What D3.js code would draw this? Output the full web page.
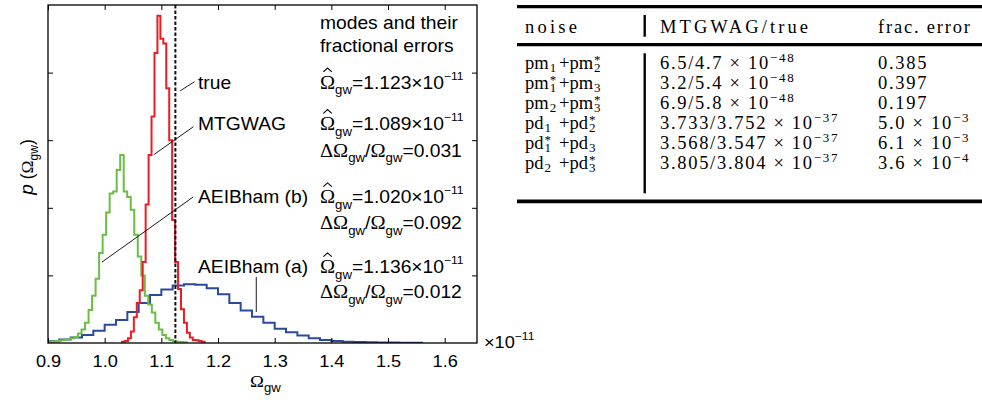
<!DOCTYPE html>
<html>
<head>
<meta charset="utf-8">
<script src="https://cdn.jsdelivr.net/npm/d3@7"></script>
<style>
  body { margin: 0; background: #fff; }
  svg { display: block; }
</style>
</head>
<body>
<div id="chart"></div>
<script>
// Posterior histograms p(Omega_gw)
var blueStart = 0.90, blueWidth = 0.02;          // AEIBham (a)
var blueValues = [0.025, 0.05, 0.08, 0.12, 0.18, 0.27, 0.34, 0.46, 0.59, 0.71, 0.79,
  0.85, 0.87, 0.86, 0.81, 0.72, 0.59, 0.48, 0.39, 0.30, 0.21, 0.16, 0.11, 0.07,
  0.045, 0.03, 0.02, 0.015, 0.01, 0.008, 0.006, 0.004, 0.003];

var greenStart = 0.8972, greenWidth = 0.0062;    // AEIBham (b)
var greenValues = [0.02, 0.02, 0.025, 0.03, 0.04, 0.05, 0.05, 0.07, 0.09, 0.14, 0.2,
  0.3, 0.49, 0.7, 0.95, 1.33, 1.6, 1.93, 2.21, 2.24, 2.56, 2.78, 2.24, 2.16, 1.97,
  1.6, 1.28, 1.0, 0.7, 0.57, 0.45, 0.3, 0.2, 0.12, 0.07, 0.045, 0.025, 0.02, 0.015, 0.01];

var redStart = 1.0307, redWidth = 0.0052;        // MTGWAG
var redValues = [0.02, 0.03, 0.07, 0.17, 0.38, 0.59, 0.78, 1.2, 2.05, 2.78, 3.35,
  4.29, 4.84, 4.5, 4.43, 3.77, 3.0, 1.82, 1.2, 0.8, 0.5, 0.3, 0.15, 0.08, 0.045,
  0.04, 0.03, 0.02];

var trueValue = 1.123;
var xTicks = [0.9, 1.0, 1.1, 1.2, 1.3, 1.4, 1.5, 1.6];
var yTicks = [1, 2, 3, 4];

var seriesNames = ["true", "MTGWAG", "AEIBham (b)", "AEIBham (a)"];
var modeValues = ["1.123", "1.089", "1.020", "1.136"];
var fracErrors = ["", "0.031", "0.092", "0.012"];

// table
var tableHeader = ["noise", "MTGWAG/true", "frac. error"];
var noiseBase = ["pm", "pm", "pm", "pd", "pd", "pd"];
var noiseFirst = ["1", "1", "2", "1", "1", "2"];
var noiseFirstStar = ["", "*", "", "", "*", ""];
var noiseSecond = ["2", "3", "3", "2", "3", "3"];
var noiseSecondStar = ["*", "", "*", "*", "", "*"];
var mtgwagValues = ["6.5", "3.2", "6.9", "3.733", "3.568", "3.805"];
var trueValues = ["4.7", "5.4", "5.8", "3.752", "3.547", "3.804"];
var ratioExps = ["\u221248", "\u221248", "\u221248", "\u221237", "\u221237", "\u221237"];
var fracMantissa = ["0.385", "0.397", "0.197", "5.0", "6.1", "3.6"];
var fracExps = ["", "", "", "\u22123", "\u22123", "\u22124"];

var svgWidth = 982, svgHeight = 403;
var plot = { left: 48, right: 477, top: 5, bottom: 343 };
var sans = "'Liberation Sans', Arial, Helvetica, sans-serif";
var serif = "'Liberation Serif', 'Times New Roman', serif";
var stretch = 1.1;

var svg = d3.select("#chart").append("svg")
  .attr("width", svgWidth)
  .attr("height", svgHeight);

var x = d3.scaleLinear().domain([0.9, 1.657]).range([plot.left, plot.right]);
var y = d3.scaleLinear().domain([0, 5]).range([plot.bottom, plot.top]);

svg.append("clipPath").attr("id", "plotClip")
  .append("rect")
  .attr("x", plot.left).attr("y", plot.top)
  .attr("width", plot.right - plot.left).attr("height", plot.bottom - plot.top);

// stairs outline of a histogram
function stepPoints(start, width, values) {
  var pts = [[start, 0]];
  values.forEach(function (v, i) { pts.push([start + i * width, v]); });
  pts.push([start + values.length * width, 0]);
  return pts;
}
var stairs = d3.line()
  .x(d => x(d[0]))
  .y(d => y(d[1]))
  .curve(d3.curveStepAfter);

var histGroup = svg.append("g").attr("clip-path", "url(#plotClip)");
var hists = [
  { start: blueStart, width: blueWidth, values: blueValues, color: "#2b4a9e" },
  { start: greenStart, width: greenWidth, values: greenValues, color: "#6abd45" },
  { start: redStart, width: redWidth, values: redValues, color: "#ec1c24" }
];
hists.forEach(function (h) {
  histGroup.append("path")
    .attr("d", stairs(stepPoints(h.start, h.width, h.values)))
    .attr("fill", "none")
    .attr("stroke", h.color)
    .attr("stroke-width", 2)
    .attr("stroke-linejoin", "miter");
});

// true value
svg.append("line")
  .attr("x1", x(trueValue) + 1).attr("x2", x(trueValue) + 1)
  .attr("y1", plot.top).attr("y2", plot.bottom)
  .attr("stroke", "#111")
  .attr("stroke-width", 2)
  .attr("stroke-dasharray", "3.5,2");

// axes, ticks pointing inwards
function styleAxis(g) {
  g.select(".domain").remove();
  g.selectAll("line").attr("stroke", "#000").attr("stroke-width", 1);
}
svg.append("g")
  .attr("transform", `translate(0, ${plot.bottom})`)
  .call(d3.axisBottom(x).tickValues(xTicks).tickSize(-5).tickPadding(12.5).tickFormat(d3.format(".1f")))
  .call(styleAxis)
  .call(g => g.selectAll("text")
    .attr("fill", "#000")
    .attr("font-family", sans)
    .attr("font-size", 16.5)
    .attr("transform", `scale(${stretch},1)`));
svg.append("g")
  .attr("transform", `translate(0, ${plot.top})`)
  .call(d3.axisTop(x).tickValues(xTicks).tickSize(-5).tickFormat(""))
  .call(styleAxis);
svg.append("g")
  .attr("transform", `translate(${plot.left}, 0)`)
  .call(d3.axisLeft(y).tickValues(yTicks).tickSize(-5).tickFormat(""))
  .call(styleAxis);
svg.append("g")
  .attr("transform", `translate(${plot.right}, 0)`)
  .call(d3.axisRight(y).tickValues(yTicks).tickSize(-5).tickFormat(""))
  .call(styleAxis);

svg.append("rect")
  .attr("x", plot.left).attr("y", plot.top)
  .attr("width", plot.right - plot.left).attr("height", plot.bottom - plot.top)
  .attr("fill", "none")
  .attr("stroke", "#000")
  .attr("stroke-width", 1.3);

// text helper: helvetica-like text, a bit wider as in the figure
function sansText(px, py, size) {
  return svg.append("text")
    .attr("transform", `translate(${px},${py}) scale(${stretch},1)`)
    .attr("font-family", sans)
    .attr("font-size", size || 17.5)
    .attr("fill", "#000");
}

// x label and exponent
var xl = sansText(250, 387, 17);
xl.append("tspan").attr("font-family", serif).text("\u03A9");
xl.append("tspan").attr("font-size", 12).attr("dy", 5).text("gw");

var xe = sansText(484, 348, 16.5);
xe.append("tspan").text("\u00D710");
xe.append("tspan").attr("font-size", 11).attr("dy", -8).text("\u221211");

// y label
var yl = svg.append("text")
  .attr("transform", "translate(33,167) rotate(-90)")
  .attr("text-anchor", "middle")
  .attr("font-family", sans)
  .attr("font-size", 17.5);
yl.append("tspan").attr("font-style", "italic").attr("font-size", 19).text("p");
yl.append("tspan").text(" (");
yl.append("tspan").attr("font-family", serif).text("\u03A9");
yl.append("tspan").attr("font-size", 12).attr("dy", 5).text("gw");
yl.append("tspan").attr("dy", -5).text(")");

// series labels with pointer lines (ends given in data units)
var labelBaselines = [88.5, 130, 203.3, 273.3];
var pointers = [
  [[1.1332, 3.73], [1.1585, 3.865]],
  [[1.0873, 2.79], [1.1567, 3.2]],
  [[0.9954, 1.198], [1.1562, 2.16]],
  [[1.2675, 0.976], [1.2675, 0.459]]
];
seriesNames.forEach(function (name, i) {
  sansText(198, labelBaselines[i]).text(name);
  svg.append("line")
    .attr("x1", x(pointers[i][0][0])).attr("y1", y(pointers[i][0][1]))
    .attr("x2", x(pointers[i][1][0])).attr("y2", y(pointers[i][1][1]))
    .attr("stroke", "#000")
    .attr("stroke-width", 0.9);
});

// modes and their fractional errors
sansText(320, 28.5).text("modes and their");
sansText(320, 51.5).text("fractional errors");
var errBaselines = [0, 156.5, 229.3, 298.3];
modeValues.forEach(function (m, i) {
  var by = labelBaselines[i];
  var t = sansText(320, by);
  var om = t.append("tspan").attr("font-family", serif).attr("font-size", 18.5).text("\u03A9");
  var cx = 320 + om.node().getComputedTextLength() * stretch / 2;
  t.append("tspan").attr("font-size", 12).attr("dy", 5.5).text("gw");
  t.append("tspan").attr("dy", -5.5).text("=" + m + "\u00D710");
  t.append("tspan").attr("font-size", 11).attr("dy", -9).text("\u221211");
  // hat over the omega
  svg.append("path")
    .attr("d", `M${cx - 4.2},${by - 16.6}L${cx},${by - 20.4}L${cx + 4.2},${by - 16.6}`)
    .attr("fill", "none")
    .attr("stroke", "#000")
    .attr("stroke-width", 1.1);
  if (fracErrors[i]) {
    var e = sansText(320, errBaselines[i]);
    e.append("tspan").attr("font-family", serif).attr("font-size", 18.5).text("\u0394\u03A9");
    e.append("tspan").attr("font-size", 12).attr("dy", 5.5).text("gw");
    e.append("tspan").attr("dy", -5.5).text("/");
    e.append("tspan").attr("font-family", serif).attr("font-size", 18.5).text("\u03A9");
    e.append("tspan").attr("font-size", 12).attr("dy", 5.5).text("gw");
    e.append("tspan").attr("dy", -5.5).text("=" + fracErrors[i]);
  }
});

// ---- table ----
var tab = svg.append("g")
  .attr("font-family", serif)
  .attr("font-size", 18.5)
  .attr("fill", "#000");
var colX = [525, 660, 878];
var headerLengths = [52, 148, 92];
var plusX = 559;

[6.7, 44.7, 201.3].forEach(function (ry, i) {
  tab.append("line")
    .attr("x1", 517).attr("x2", 982)
    .attr("y1", ry).attr("y2", ry)
    .attr("stroke", "#000")
    .attr("stroke-width", i === 2 ? 3.8 : 3.2);
});
[[15, 36.7], [53.3, 193.3]].forEach(function (seg) {
  tab.append("line")
    .attr("x1", 644.7).attr("x2", 644.7)
    .attr("y1", seg[0]).attr("y2", seg[1])
    .attr("stroke", "#000")
    .attr("stroke-width", 2.4);
});

tableHeader.forEach(function (h, i) {
  tab.append("text")
    .attr("x", colX[i]).attr("y", 33.3)
    .attr("textLength", headerLengths[i])
    .attr("lengthAdjust", "spacing")
    .text(h);
});

// measure a plain string in the table font
var probe = tab.append("text").attr("visibility", "hidden");
function tableWidth(s) { return probe.text(s).node().getComputedTextLength(); }

// one text per noise cell: base, subscript with a star stacked over it
function noiseTerm(t, px, by, label, sub, star) {
  var w = tableWidth(label);
  t.append("tspan").attr("x", px).attr("y", by).attr("font-size", 18.5).text(label);
  t.append("tspan").attr("x", px + w + 1).attr("y", by + 3.5).text(sub);
  if (star) {
    t.append("tspan").attr("x", px + w + 1).attr("y", by - 5).text(star);
  }
}

noiseBase.forEach(function (b, i) {
  var by = 68.5 + i * 20;
  var n = tab.append("text").attr("font-size", 13);
  noiseTerm(n, colX[0], by, b, noiseFirst[i], noiseFirstStar[i]);
  noiseTerm(n, plusX, by, "+" + b, noiseSecond[i], noiseSecondStar[i]);

  var r = tab.append("text").attr("x", colX[1]).attr("y", by).attr("letter-spacing", 1.7);
  r.append("tspan").text(mtgwagValues[i] + "/" + trueValues[i] + " \u00D7 10");
  r.append("tspan").attr("font-size", 13).attr("dy", -7).text(ratioExps[i]);

  var f = tab.append("text").attr("x", colX[2]).attr("y", by).attr("letter-spacing", 1.7);
  if (fracExps[i]) {
    f.append("tspan").text(fracMantissa[i] + " \u00D7 10");
    f.append("tspan").attr("font-size", 13).attr("dy", -7).text(fracExps[i]);
  } else {
    f.text(fracMantissa[i]);
  }
});
probe.remove();
</script>
</body>
</html>
